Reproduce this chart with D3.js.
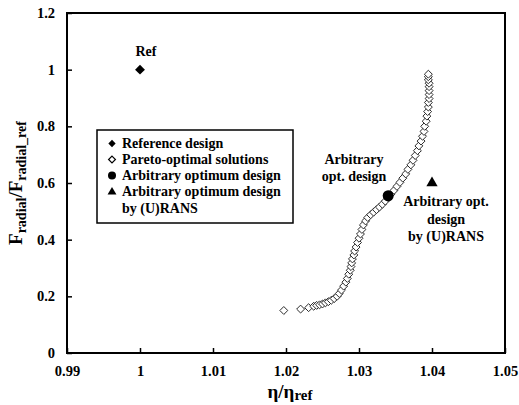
<!DOCTYPE html>
<html>
<head>
<meta charset="utf-8">
<script src="https://cdn.jsdelivr.net/npm/d3@7"></script>
<style>
  html, body { margin: 0; padding: 0; background: #fff; }
  svg text { font-family: "Liberation Serif", "Times New Roman", Tinos, "DejaVu Serif", serif !important; font-weight: bold; }
</style>
</head>
<body>
<div id="chart"></div>
<script>
// Pareto-optimal front: efficiency ratio vs. radial force ratio
const paretoEta = [
  1.0197, 1.0220, 1.0231, 1.0238, 1.0242, 1.0246, 1.0250, 1.0254, 1.0258, 1.0262,
  1.0266, 1.0270, 1.0273, 1.0276, 1.0279, 1.0282, 1.0284, 1.0286, 1.0288, 1.0289,
  1.0290, 1.0291, 1.0293, 1.0294, 1.0296, 1.0298, 1.0300, 1.0302, 1.0304, 1.0306,
  1.0309, 1.0312, 1.0316, 1.0320, 1.0324, 1.0328, 1.0332, 1.0336, 1.0340, 1.0344,
  1.0348, 1.0352, 1.0356, 1.0360, 1.0364, 1.0367, 1.0371, 1.0374, 1.0377, 1.0380,
  1.0382, 1.0385, 1.0387, 1.0389, 1.0390, 1.0392, 1.0393, 1.0394, 1.0395, 1.0395,
  1.0396, 1.0396, 1.0396, 1.0396, 1.0396, 1.0395, 1.0395, 1.0395
];
const paretoForce = [
  0.150, 0.155, 0.160, 0.165, 0.168, 0.170, 0.173, 0.177, 0.181, 0.186,
  0.192, 0.200, 0.210, 0.222, 0.236, 0.250, 0.263, 0.278, 0.292, 0.305,
  0.318, 0.332, 0.346, 0.360, 0.374, 0.390, 0.405, 0.420, 0.436, 0.452,
  0.466, 0.478, 0.488, 0.497, 0.506, 0.515, 0.525, 0.536, 0.548, 0.561,
  0.574, 0.588, 0.602, 0.617, 0.632, 0.648, 0.664, 0.680, 0.697, 0.714,
  0.731, 0.748, 0.765, 0.782, 0.800, 0.818, 0.836, 0.852, 0.868, 0.884,
  0.898, 0.912, 0.926, 0.940, 0.952, 0.964, 0.975, 0.984
];

// Single designs
const refDesign = [1.0, 1.0];
const optDesign = [1.034, 0.555];
const ransDesign = [1.04, 0.60];

// Axis ticks
const xTicks = [0.99, 1.0, 1.01, 1.02, 1.03, 1.04, 1.05];
const xTickLabels = ["0.99", "1", "1.01", "1.02", "1.03", "1.04", "1.05"];
const yTicks = [0, 0.2, 0.4, 0.6, 0.8, 1.0, 1.2];
const yTickLabels = ["0", "0.2", "0.4", "0.6", "0.8", "1", "1.2"];

// Legend entries
const legendLabels = [
  ["Reference design"],
  ["Pareto-optimal solutions"],
  ["Arbitrary optimum design"],
  ["Arbitrary optimum design", "by (U)RANS"]
];

const W = 519, H = 405;
const svg = d3.select("#chart").append("svg").attr("width", W).attr("height", H);

const x = d3.scaleLinear().domain([0.99, 1.05]).range([67, 505]);
const y = d3.scaleLinear().domain([0, 1.2]).range([353, 13]);

// Axes with inward ticks
const xAxis = d3.axisBottom(x).tickValues(xTicks)
  .tickFormat((d, i) => xTickLabels[i]).tickSizeInner(-5).tickSizeOuter(0).tickPadding(13);
const yAxis = d3.axisLeft(y).tickValues(yTicks)
  .tickFormat((d, i) => yTickLabels[i]).tickSizeInner(-5).tickSizeOuter(0).tickPadding(12);

const gx = svg.append("g").attr("transform", `translate(0,${y(0)})`).call(xAxis);
const gy = svg.append("g").attr("transform", `translate(${x(0.99)},0)`).call(yAxis);
[gx, gy].forEach(g => {
  g.attr("font-family", null).attr("font-size", null);
  g.select(".domain").remove();
  g.selectAll(".tick line").attr("stroke", "#000").attr("stroke-width", 1.5);
  g.selectAll(".tick text").attr("fill", "#000").style("font-size", "14.5px");
});

// Plot frame
svg.append("rect")
  .attr("x", x(0.99)).attr("y", y(1.2))
  .attr("width", x(1.05) - x(0.99)).attr("height", y(0) - y(1.2))
  .attr("fill", "none").attr("stroke", "#000").attr("stroke-width", 2);

// Pareto front markers
const diamond = d3.symbol().type(d3.symbolDiamond2);
const pareto = paretoEta.map((v, i) => [v, paretoForce[i]]);
svg.append("g").selectAll("path").data(pareto).join("path")
  .attr("transform", d => `translate(${x(d[0])},${y(d[1])})`)
  .attr("d", diamond.size(40)())
  .attr("fill", "#fff").attr("stroke", "#2a2a2a").attr("stroke-width", 1);

// Reference design
svg.append("path")
  .attr("transform", `translate(${x(refDesign[0])},${y(refDesign[1])})`)
  .attr("d", d3.symbol().type(d3.symbolDiamond2).size(62)())
  .attr("fill", "#000");

// Arbitrary optimum design
svg.append("circle")
  .attr("cx", x(optDesign[0])).attr("cy", y(optDesign[1])).attr("r", 5.5)
  .attr("fill", "#000");

// Arbitrary optimum design by (U)RANS
svg.append("path")
  .attr("transform", `translate(${x(ransDesign[0])},${y(ransDesign[1])})`)
  .attr("d", d3.symbol().type(d3.symbolTriangle).size(55)())
  .attr("fill", "#000");

// Annotations
const note = (lines, cx, y0, dy) => {
  const t = svg.append("text").attr("text-anchor", "middle").style("font-size", "14px").attr("fill", "#000");
  lines.forEach((l, i) => t.append("tspan").attr("x", cx).attr("y", y0 + i * dy).text(l));
};
note(["Ref"], x(refDesign[0]) + 6, 56, 0);
note(["Arbitrary", "opt. design"], 354, 164, 17);
note(["Arbitrary opt.", "design", "by (U)RANS"], 446, 206, 17.5);

// Legend
const lg = svg.append("g");
lg.append("rect").attr("x", 97).attr("y", 130).attr("width", 196).attr("height", 93)
  .attr("fill", "#fff").attr("stroke", "#000").attr("stroke-width", 1.5);
const rowY = [148, 164, 180, 196];
const mx = 112;
lg.append("path").attr("transform", `translate(${mx},${rowY[0] - 4.5})`)
  .attr("d", d3.symbol().type(d3.symbolDiamond2).size(34)()).attr("fill", "#000");
lg.append("path").attr("transform", `translate(${mx},${rowY[1] - 4.5})`)
  .attr("d", d3.symbol().type(d3.symbolDiamond2).size(30)()).attr("fill", "#fff").attr("stroke", "#000").attr("stroke-width", 1.2);
lg.append("circle").attr("cx", mx).attr("cy", rowY[2] - 4.5).attr("r", 4).attr("fill", "#000");
lg.append("path").attr("transform", `translate(${mx},${rowY[3] - 4})`)
  .attr("d", d3.symbol().type(d3.symbolTriangle).size(34)()).attr("fill", "#000");
legendLabels.forEach((lines, i) => {
  const t = lg.append("text").style("font-size", "14px").attr("fill", "#000");
  lines.forEach((l, j) => t.append("tspan").attr("x", 122).attr("y", rowY[i] + j * 17).text(l));
});

// Axis titles
const xt = svg.append("text").attr("text-anchor", "middle").attr("x", 290).attr("y", 398).attr("fill", "#000");
xt.append("tspan").style("font-size", "19px").text("η/η");
xt.append("tspan").style("font-size", "15px").attr("dy", 2).text("ref");

const yt = svg.append("text").attr("text-anchor", "middle")
  .attr("transform", "translate(22,183) rotate(-90)").attr("fill", "#000");
yt.append("tspan").style("font-size", "19px").text("F");
yt.append("tspan").style("font-size", "14px").attr("dy", 4).text("radial");
yt.append("tspan").style("font-size", "19px").attr("dy", -4).text("/F");
yt.append("tspan").style("font-size", "14px").attr("dy", 4).text("radial_ref");
</script>
</body>
</html>
